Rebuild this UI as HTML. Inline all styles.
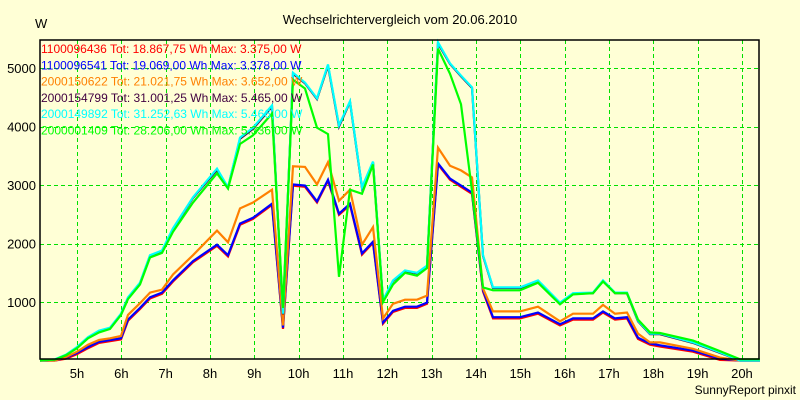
<!DOCTYPE html>
<html><head><meta charset="utf-8"><style>
html,body{margin:0;padding:0;background:#FFFFD6;}
svg{display:block;font-family:"Liberation Sans",sans-serif;}
</style></head><body>
<svg id="chart" width="800" height="400" viewBox="0 0 800 400" xmlns="http://www.w3.org/2000/svg">
<rect x="0" y="0" width="800" height="400" fill="#FFFFD6"/>
<text x="400" y="24" text-anchor="middle" font-size="13" fill="#000">Wechselrichtervergleich vom 20.06.2010</text>
<text x="35" y="28" font-size="13" fill="#000">W</text>
<text x="796" y="394" text-anchor="end" font-size="12" fill="#000">SunnyReport pinxit</text>
<g id="grid"></g>
<g id="axes"></g>
<g id="series"></g>
<rect x="40" y="40" width="719" height="319" fill="none" stroke="#000" stroke-width="1.5"/>
<g id="legend"></g>
</svg>
<script>
const xs = [40,55,66,77,88,99,110,121,128,140,150,162,173,193,217,228,240,253,272,283,293,305,317,328,339,350,362,373,383,393,405,417,427,438,450,461,472,483,493,520,538,560,573,593,603,615,627,638,650,660,693,720,740,760];
const times = xs.map(x => +(5 + (x - 77) / 44.33).toFixed(3));
const cyanVals = [0,20,100,230,400,510,560,800,1080,1330,1800,1880,2260,2790,3280,2960,3810,3980,4360,800,4920,4750,4480,5060,4020,4430,2960,3400,1030,1370,1540,1500,1620,5440,5080,4870,4670,1800,1250,1250,1370,990,1150,1160,1370,1160,1160,680,460,460,310,140,0,0];
const darkVals = [0,15,90,220,390,500,550,790,1070,1320,1790,1870,2250,2780,3260,2950,3790,3960,4340,790,4900,4740,4470,5040,4000,4420,2950,3390,1020,1360,1530,1490,1610,5420,5070,4860,4660,1790,1240,1240,1360,980,1140,1150,1360,1150,1150,670,450,450,300,130,0,0];
const greenVals = [0,15,90,210,380,480,540,780,1050,1300,1760,1840,2200,2700,3200,2940,3700,3850,4220,900,4800,4650,3980,3870,1430,2920,2850,3350,1000,1300,1500,1450,1580,5330,4900,4380,2900,1250,1200,1200,1330,960,1130,1150,1350,1150,1150,700,480,470,340,160,20,20];
const orangeVals = [0,0,60,150,270,350,380,420,780,980,1160,1210,1470,1800,2220,2020,2600,2700,2920,600,3320,3310,3010,3390,2730,2920,1980,2280,720,970,1040,1040,1110,3640,3330,3250,3130,1230,840,840,920,670,800,800,950,800,820,460,310,310,200,50,0,0];
const blueVals = [0,0,50,130,230,320,350,380,700,900,1080,1160,1370,1700,1980,1800,2340,2440,2680,560,3010,2990,2720,3090,2510,2680,1830,2030,650,850,920,920,990,3370,3110,2990,2870,1200,740,740,820,620,720,720,840,720,740,390,290,260,170,30,0,0];
const redVals = blueVals.map(v => Math.max(0, v - 20));
const seriesNames = ["1100096436","1100096541","2000150622","2000154799","2000149892","2000001409"];
const seriesColors = ["#FF0000","#0000FF","#FF8000","#400040","#00FFFF","#00FF00"];
const legendTexts = [
 "1100096436 Tot: 18.867,75 Wh Max: 3.375,00 W",
 "1100096541 Tot: 19.069,00 Wh Max: 3.378,00 W",
 "2000150622 Tot: 21.021,75 Wh Max: 3.652,00 W",
 "2000154799 Tot: 31.001,25 Wh Max: 5.465,00 W",
 "2000149892 Tot: 31.252,63 Wh Max: 5.466,00 W",
 "2000001409 Tot: 28.206,00 Wh Max: 5.336,00 W"];
const yTicks = [1000,2000,3000,4000,5000];
const xTickHours = [5,6,7,8,9,10,11,12,13,14,15,16,17,18,19,20];
const xTickLabels = ["5h","6h","7h","8h","9h","10h","11h","12h","13h","14h","15h","16h","17h","18h","19h","20h"];

const NS = "http://www.w3.org/2000/svg";
function xScale(t){ return 77 + (t - 5) * 44.33; }
function yScale(v){ return 360.5 - v * 0.0585; }
function mk(tag, attrs, parent){ const e = document.createElementNS(NS, tag); for (const k in attrs) e.setAttribute(k, attrs[k]); parent.appendChild(e); return e; }

const grid = document.getElementById("grid");
const axes = document.getElementById("axes");
xTickHours.forEach((h, i) => {
  const x = Math.round(xScale(h)) + 0.5;
  const l = mk("line", {x1:x, y1:40, x2:x, y2:359, stroke:"#00E000", "stroke-width":1, "stroke-dasharray":"4,3"}, grid);
  
  
  const t = mk("text", {x:xScale(h), y:378, "text-anchor":"middle", "font-size":13, fill:"#000"}, axes);
  t.textContent = xTickLabels[i];
  
  
});
yTicks.forEach(v => {
  const y = Math.round(yScale(v)) + 0.5;
  const l = mk("line", {x1:40, y1:y, x2:759, y2:y, stroke:"#00E000", "stroke-width":1, "stroke-dasharray":"4,3"}, grid);
  
  
  const t = mk("text", {x:36, y:yScale(v) + 5, "text-anchor":"end", "font-size":13, fill:"#000"}, axes);
  t.textContent = String(v);
  
  
});

const allVals = [redVals, blueVals, orangeVals, darkVals, cyanVals, greenVals];
const seriesG = document.getElementById("series");
allVals.forEach((vals, si) => {
  const pts = vals.map((v, i) => xScale(times[i]).toFixed(1) + "," + yScale(v).toFixed(1)).join(" ");
  const p = mk("polyline", {points:pts, fill:"none", stroke:seriesColors[si], "stroke-width":2.2, "stroke-linejoin":"miter"}, seriesG);
  
  
});

const legend = document.getElementById("legend");
legendTexts.forEach((txt, i) => {
  const t = mk("text", {x:41, y:53 + i * 16.3, "font-size":12, fill:seriesColors[i]}, legend);
  t.textContent = txt;
  
  
});
</script>
</body></html>
